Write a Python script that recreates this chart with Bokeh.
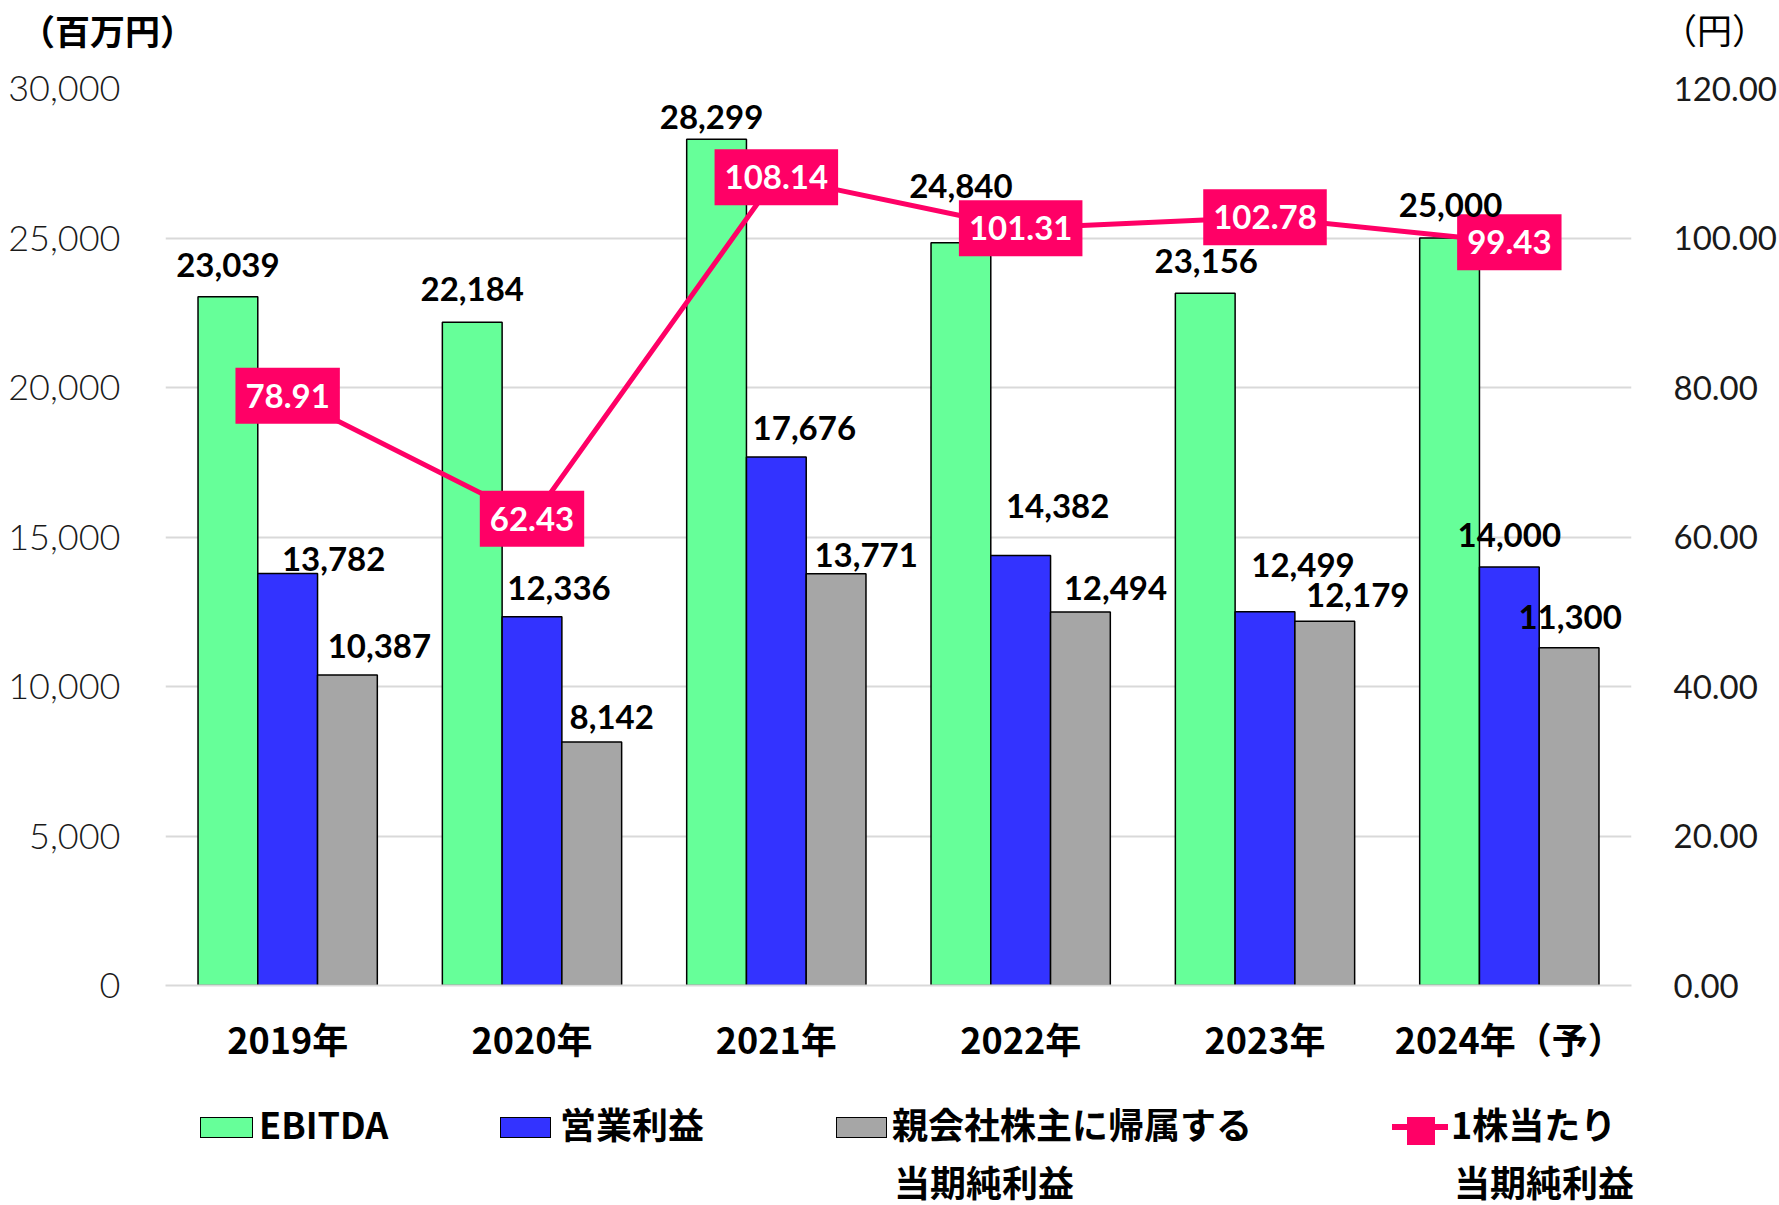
from bokeh.plotting import figure
from bokeh.models import (ColumnDataSource, FactorRange, Range1d, LinearAxis, FixedTicker,
                          NumeralTickFormatter, LabelSet, Div)
from bokeh.transform import dodge
from bokeh.layouts import column
from bokeh.core.properties import value
from bokeh.embed import file_html
from bokeh.resources import INLINE

# ---------------- data ----------------
years = ["2019年", "2020年", "2021年", "2022年", "2023年", "2024年（予）"]
ebitda = [23039, 22184, 28299, 24840, 23156, 25000]
op_income = [13782, 12336, 17676, 14382, 12499, 14000]
net_income = [10387, 8142, 13771, 12494, 12179, 11300]
eps = [78.91, 62.43, 108.14, 101.31, 102.78, 99.43]

left_ticks = [0, 5000, 10000, 15000, 20000, 25000, 30000]
right_ticks = [0, 20, 40, 60, 80, 100, 120]

left_unit = "（百万円）"
right_unit = "（円）"
legend_line1 = ["EBITDA", "営業利益", "親会社株主に帰属する", "1株当たり"]
legend_line2 = ["当期純利益", "当期純利益"]

# label nudges in pixels (layout only)
ebitda_dx = [0, 0, -5, 0, 1, 1]
ebitda_dy = [32, 33, 22, 57, 32, 33]
op_dx = [46, 27, 28, 37, 38, 0]
op_dy = [14, 29, 29, 49, 47, 32]
net_dx = [32, 20, 30, 35, 33, 1]
net_dy = [29, 25, 19, 24, 26, 31]

# ---------------- styles ----------------
C_EBITDA = "#66FF99"
C_OP = "#3333FF"
C_NET = "#A6A6A6"
C_EPS = "#FF0066"
GRID = "#D9D9D9"
W = 1779
H_TOP = 60
H_MAIN = 1020
H_LEG = 125
BW = 0.2446

src = ColumnDataSource(dict(
    year=years, ebitda=ebitda, op=op_income, net=net_income, eps=eps,
    ebitda_lbl=[f"{v:,}" for v in ebitda],
    op_lbl=[f"{v:,}" for v in op_income],
    net_lbl=[f"{v:,}" for v in net_income],
    eps_lbl=[f"{v:.2f}" for v in eps],
    ebitda_dx=ebitda_dx, ebitda_dy=ebitda_dy,
    op_dx=op_dx, op_dy=op_dy, net_dx=net_dx, net_dy=net_dy,
))

p = figure(x_range=FactorRange(factors=years, range_padding=0), y_range=Range1d(0, 30000),
           width=W, height=H_MAIN, output_backend="svg", toolbar_location=None,
           min_border_left=165, min_border_right=142, min_border_top=28, min_border_bottom=95,
           margin=(0, 0, 0, 0))
p.extra_y_ranges = {"eps": Range1d(0, 120)}
p.outline_line_color = None
p.background_fill_color = "white"
p.border_fill_color = "white"

p.xgrid.grid_line_color = None
p.ygrid.grid_line_color = GRID
p.ygrid.grid_line_width = 2
p.ygrid.ticker = FixedTicker(ticks=left_ticks)

yl = p.yaxis[0]
yl.ticker = FixedTicker(ticks=left_ticks)
yl.formatter = NumeralTickFormatter(format="0,0")
yl.axis_line_color = None
yl.major_tick_line_color = None
yl.minor_tick_line_color = None
yl.major_label_standoff = 39
yl.major_label_text_font = "Lato Light, Lato"
yl.major_label_text_font_size = "36px"
yl.major_label_text_color = "#1a1a1a"

yr = LinearAxis(y_range_name="eps", ticker=FixedTicker(ticks=right_ticks),
                formatter=NumeralTickFormatter(format="0.00"))
yr.axis_line_color = None
yr.major_tick_line_color = None
yr.minor_tick_line_color = None
yr.major_label_standoff = 36
yr.major_label_text_font = "Lato"
yr.major_label_text_font_size = "33px"
yr.major_label_text_color = "#1a1a1a"
p.add_layout(yr, "right")

xa = p.xaxis[0]
xa.axis_line_color = GRID
xa.axis_line_width = 2
xa.major_tick_line_color = None
xa.minor_tick_line_color = None
xa.major_label_standoff = 20
xa.major_label_text_font = "Noto Sans CJK JP"
xa.major_label_text_font_style = "bold"
xa.major_label_text_font_size = "36px"
xa.major_label_text_color = "black"

# bars
p.vbar(x=dodge("year", -BW, range=p.x_range), top="ebitda", width=BW, source=src,
       fill_color=C_EBITDA, line_color="black", line_width=1.5)
p.vbar(x=dodge("year", 0, range=p.x_range), top="op", width=BW, source=src,
       fill_color=C_OP, line_color="black", line_width=1.5)
p.vbar(x=dodge("year", BW, range=p.x_range), top="net", width=BW, source=src,
       fill_color=C_NET, line_color="black", line_width=1.5)

lbl_kw = dict(source=src, text_font=value("Lato"), text_font_style="bold",
              text_font_size="33px", text_color="black", text_align="center",
              text_baseline="middle")
p.add_layout(LabelSet(x=dodge("year", -BW, range=p.x_range), y="ebitda", text="ebitda_lbl",
                      x_offset="ebitda_dx", y_offset="ebitda_dy", **lbl_kw))
p.add_layout(LabelSet(x=dodge("year", 0, range=p.x_range), y="op", text="op_lbl",
                      x_offset="op_dx", y_offset="op_dy", **lbl_kw))
p.add_layout(LabelSet(x=dodge("year", BW, range=p.x_range), y="net", text="net_lbl",
                      x_offset="net_dx", y_offset="net_dy", **lbl_kw))

# EPS line
p.line(x="year", y="eps", y_range_name="eps", source=src, line_color=C_EPS, line_width=5)
p.scatter(x="year", y="eps", y_range_name="eps", source=src, marker="square", size=14,
          fill_color=C_EPS, line_color=C_EPS)
p.text(x="year", y="eps", y_range_name="eps", source=src, text="eps_lbl",
       text_font=value("Lato"), text_font_style="bold", text_font_size="33px",
       text_color="white", text_align="center", text_baseline="middle",
       background_fill_color=C_EPS, padding=dict(left=10, right=10, top=16, bottom=16))

# ---------------- html helpers (unit titles and legend) ----------------
FONT = "'Noto Sans CJK JP', 'Noto Sans CJK SC', sans-serif"


def txt(x, top, s, size=36, weight="bold"):
    return (f'<div style="position:absolute;left:{x}px;top:{top}px;font-family:{FONT};'
            f'font-weight:{weight};font-size:{size}px;line-height:{size}px;'
            f'white-space:nowrap;color:#000;">{s}</div>')


def box(x0, x1, y0, y1, fill, border="1.5px solid #000"):
    return (f'<div style="position:absolute;left:{x0}px;top:{y0}px;width:{x1 - x0}px;'
            f'height:{y1 - y0}px;background:{fill};border:{border};box-sizing:border-box;"></div>')


top_html = (f'<div style="position:relative;width:{W}px;height:{H_TOP}px;">'
            + txt(20, 12, left_unit, 35, "bold")
            + txt(1662, 11, right_unit, 35, "normal")
            + '</div>')
top_div = Div(text=top_html, width=W, height=H_TOP, margin=(0, 0, 0, 0))

sw_x = [(200, 253), (500, 551), (836, 887)]
sw_fill = [C_EBITDA, C_OP, C_NET]
txt_x1 = [259, 560, 892, 1451]
txt_x2 = [894, 1454]
leg_parts = [f'<div style="position:relative;width:{W}px;height:{H_LEG}px;">']
for (a, b), f in zip(sw_x, sw_fill):
    leg_parts.append(box(a, b, 37, 58, f))
leg_parts.append(box(1392, 1448, 44, 50, C_EPS, "none"))
leg_parts.append(box(1407, 1435, 37, 65, C_EPS, "none"))
for x, s in zip(txt_x1, legend_line1):
    leg_parts.append(txt(x, 25, s))
for x, s in zip(txt_x2, legend_line2):
    leg_parts.append(txt(x, 83, s))
leg_parts.append('</div>')
leg_div = Div(text="".join(leg_parts), width=W, height=H_LEG, margin=(0, 0, 0, 0),
              styles={"overflow": "visible"})

layout = column(top_div, p, leg_div, spacing=0)
open("out.html", "w").write(file_html(layout, INLINE))
